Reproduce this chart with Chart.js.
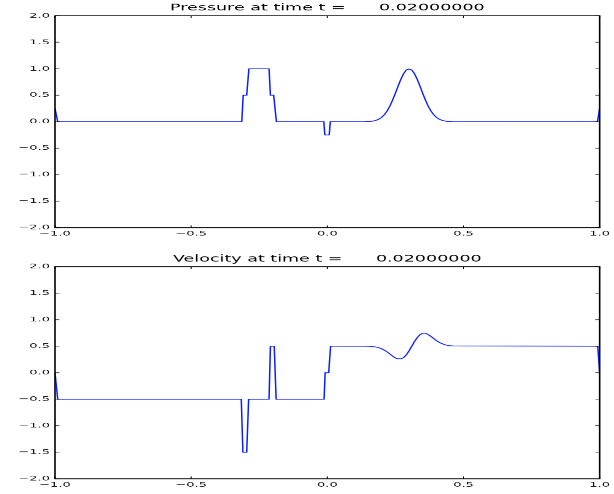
<!DOCTYPE html>
<html>
<head>
<meta charset="utf-8">
<script src="https://cdn.jsdelivr.net/npm/chart.js@4"></script>
<style>
    body { margin: 0; background: #fff; }
    canvas { display: block; }
</style>
</head>
<body>
<canvas id="pressureChart" width="614" height="475" style="width:614px;height:247px"></canvas>
<canvas id="velocityChart" width="614" height="475" style="width:614px;height:247px"></canvas>
<script>
// ==============================
// DATA
// ==============================

const pressureX = [-1.0, -0.99, -0.314, -0.309, -0.296, -0.288, -0.214, -0.209, -0.197, -0.187,
    -0.013, -0.009, 0.007, 0.011,
    0.14, 0.15, 0.16, 0.17, 0.18, 0.19, 0.20, 0.21, 0.22, 0.23, 0.24, 0.25, 0.26, 0.27, 0.28, 0.29,
    0.30, 0.31, 0.32, 0.33, 0.34, 0.35, 0.36, 0.37, 0.38, 0.39, 0.40, 0.41, 0.42, 0.43, 0.44, 0.45, 0.46,
    0.992, 1.0];
const pressureY = [0.25, 0, 0, 0.5, 0.5, 1, 1, 0.5, 0.5, 0,
    0, -0.25, -0.25, 0,
    0.0018, 0.0039, 0.0079, 0.0154, 0.0286, 0.0504, 0.0847, 0.135, 0.206, 0.298, 0.411, 0.539, 0.674, 0.801, 0.906, 0.976,
    0.995, 0.976, 0.906, 0.801, 0.674, 0.539, 0.411, 0.298, 0.206, 0.135, 0.0847, 0.0504, 0.0286, 0.0154, 0.0079, 0.0039, 0.0018,
    0, 0.25];

const velocityX = [-1.0, -0.99, -0.316, -0.31, -0.296, -0.289, -0.214, -0.209, -0.195, -0.188,
    -0.012, -0.008, 0.005, 0.012,
    0.14, 0.15, 0.16, 0.17, 0.18, 0.19, 0.20, 0.21, 0.22, 0.23, 0.24, 0.25, 0.26, 0.27, 0.28, 0.29,
    0.30, 0.31, 0.32, 0.33, 0.34, 0.35, 0.36, 0.37, 0.38, 0.39, 0.40, 0.41, 0.42, 0.43, 0.44, 0.45, 0.46,
    0.993, 1.0];
const velocityY = [0, -0.5, -0.5, -1.5, -1.5, -0.5, -0.5, 0.5, 0.5, -0.5,
    -0.5, 0, 0, 0.5,
    0.5, 0.497, 0.495, 0.490, 0.482, 0.469, 0.450, 0.424, 0.391, 0.352, 0.313, 0.279, 0.262, 0.262, 0.284, 0.337, 0.412,
    0.5, 0.588, 0.663, 0.716, 0.745, 0.745, 0.721, 0.687, 0.648, 0.609, 0.576, 0.550, 0.531, 0.518, 0.510, 0.505,
    0.5, 0];

const xTicks = { min: -1.0, max: 1.0, step: 0.5 };
const yTicks = { min: -2.0, max: 2.0, step: 0.5 };
const timeLabel = '0.02000000';

// ==============================
// HELPERS
// ==============================

const FONT = "'DejaVu Sans', sans-serif";

function fmtTick(v) {
    return Math.abs(v) < 1e-9 ? '0.0' : v.toFixed(1).replace('-', '\u2212');
}

// matplotlib-style box with inward ticks on all four sides
const frameAndTicks = {
    id: 'frameAndTicks',
    afterDatasetsDraw(chart) {
        const { ctx, chartArea: a, scales: { x, y } } = chart;
        const len = 4.4;
        ctx.save();
        ctx.strokeStyle = '#000';
        ctx.lineWidth = 1;
        ctx.beginPath();
        x.ticks.forEach(t => {
            const px = x.getPixelForValue(t.value);
            ctx.moveTo(px, a.bottom); ctx.lineTo(px, a.bottom - len);
            ctx.moveTo(px, a.top); ctx.lineTo(px, a.top + len);
        });
        y.ticks.forEach(t => {
            const py = y.getPixelForValue(t.value);
            ctx.moveTo(a.left, py); ctx.lineTo(a.left + len, py);
            ctx.moveTo(a.right, py); ctx.lineTo(a.right - len, py);
        });
        ctx.stroke();
        ctx.lineWidth = 1.6;
        ctx.strokeRect(a.left, a.top, a.right - a.left, a.bottom - a.top);
        ctx.restore();
    }
};

function createFieldChart(canvasId, titleText, xs, ys, topPad, xAxisHeight) {
    const ctx = document.getElementById(canvasId).getContext('2d');
    return new Chart(ctx, {
        type: 'line',
        data: {
            datasets: [{
                data: xs.map((v, i) => ({ x: v, y: ys[i] })),
                borderColor: '#0a1eff',
                borderWidth: 1.5,
                pointRadius: 0,
                tension: 0,
                fill: false
            }]
        },
        options: {
            responsive: false,
            animation: false,
            devicePixelRatio: 1,
            layout: { padding: { top: topPad, right: 11, left: 0, bottom: 0 } },
            plugins: {
                legend: { display: false },
                tooltip: { enabled: false },
                title: {
                    display: true,
                    fullSize: false,
                    text: titleText,
                    color: '#000',
                    font: { family: FONT, size: 17.5, weight: 'normal' },
                    padding: { top: 4.9, bottom: 4.3 }
                }
            },
            scales: {
                x: {
                    type: 'linear',
                    min: xTicks.min,
                    max: xTicks.max,
                    grid: { display: false, drawTicks: false },
                    border: { display: false },
                    afterFit: s => { s.height = xAxisHeight; },
                    ticks: {
                        stepSize: xTicks.step,
                        autoSkip: false,
                        maxRotation: 0,
                        padding: 4,
                        color: '#111',
                        font: { family: FONT, size: 13 },
                        callback: fmtTick
                    }
                },
                y: {
                    min: yTicks.min,
                    max: yTicks.max,
                    grid: { display: false, drawTicks: false },
                    border: { display: false },
                    afterFit: s => { s.width = 55; },
                    ticks: {
                        stepSize: yTicks.step,
                        autoSkip: false,
                        padding: 5,
                        color: '#111',
                        font: { family: FONT, size: 13 },
                        callback: fmtTick
                    }
                }
            }
        },
        plugins: [frameAndTicks]
    });
}

// ==============================
// PRESSURE / VELOCITY
// ==============================

createFieldChart('pressureChart', 'Pressure at time t =      ' + timeLabel,
    pressureX, pressureY, 0, 37.1);

createFieldChart('velocityChart', 'Velocity at time t =      ' + timeLabel,
    velocityX, velocityY, 7.7, 29.4);
</script>
</body>
</html>
